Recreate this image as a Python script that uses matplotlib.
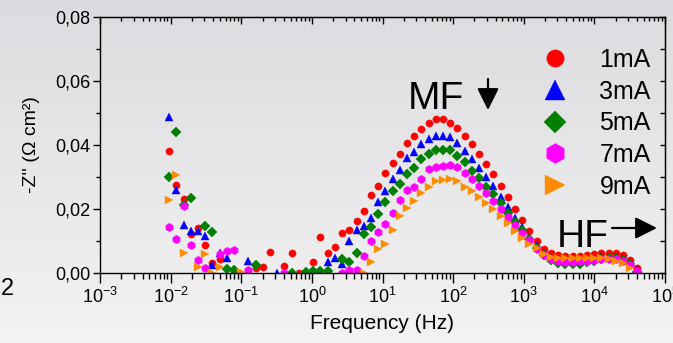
import numpy as np
import matplotlib

matplotlib.use("Agg")
from matplotlib import pyplot as plt
from matplotlib.colors import LinearSegmentedColormap
from matplotlib.ticker import FuncFormatter, LogLocator, MultipleLocator, NullFormatter

nan = np.nan

# measurement frequencies (Hz), ~10 points per decade
FREQ_HZ = [
    0.00955, 0.01208, 0.01528, 0.01932, 0.02443, 0.0309, 0.0391, 0.0494, 0.0625, 0.0791,
    0.1, 0.1265, 0.160, 0.202, 0.256, 0.324, 0.409, 0.518, 0.655, 0.828,
    1.047, 1.324, 1.675, 2.118, 2.679, 3.388, 4.285, 5.420, 6.855, 8.670,
    10.96, 13.87, 17.54, 22.18, 28.05, 35.48, 44.87, 56.75, 71.78, 90.78,
    114.8, 145.2, 183.7, 232.3, 293.8, 371.5, 469.9, 594.3, 751.6, 950.6,
    1202, 1521, 1923, 2432, 3076, 3890, 4920, 6223, 7870, 9954,
    12589, 15922, 20137, 25468, 32211, 40738,
]

# -Z'' (ohm cm2), nan = point not shown on the chart
Z_1MA = [
    0.0381, 0.0275, 0.0231, 0.0122, 0.0140, 0.0088, 0.0030, 0.0043, nan, 0.0009,
    nan, nan, 0.0016, 0.0018, 0.0065, nan, 0.0023, 0.0062, 0.0000, nan,
    0.0033, 0.0112, 0.0061, 0.0081, 0.0126, 0.0134, 0.0162, 0.0195, 0.0244, 0.0271,
    0.0311, 0.0343, 0.0373, 0.0405, 0.0428, 0.0450, 0.0468, 0.0481, 0.0481, 0.0470,
    0.0452, 0.0427, 0.0402, 0.0373, 0.0341, 0.0309, 0.0272, 0.0236, 0.0201, 0.0166,
    0.0132, 0.0100, 0.0075, 0.0062, 0.0055, 0.0052, 0.0052, 0.0053, 0.0056, 0.0060,
    0.0063, 0.0063, 0.0062, 0.0057, 0.0042, 0.0015,
]
Z_3MA = [
    0.0489, 0.0259, 0.0149, 0.0132, 0.0132, 0.0117, 0.0024, 0.0064, 0.0046, nan,
    nan, 0.0037, nan, nan, nan, 0.0000, nan, nan, nan, nan,
    nan, nan, 0.0035, 0.0046, 0.0029, 0.0101, 0.0133, 0.0148, 0.0173, 0.0221,
    0.0256, 0.0293, 0.0322, 0.0358, 0.0379, 0.0402, 0.0418, 0.0429, 0.0429, 0.0426,
    0.0405, 0.0381, 0.0355, 0.0327, 0.0301, 0.0271, 0.0238, 0.0205, 0.0172, 0.0143,
    0.0108, 0.0087, 0.0063, 0.0048, 0.0040, 0.0037, 0.0036, 0.0037, 0.0040, 0.0045,
    0.0049, 0.0050, 0.0049, 0.0044, 0.0030, 0.0008,
]
Z_5MA = [
    0.0301, 0.0442, 0.0214, 0.0234, nan, 0.0148, 0.0129, nan, 0.0012, 0.0008,
    nan, nan, 0.0026, nan, nan, nan, nan, 0.0001, nan, 0.0002,
    0.0006, 0.0006, 0.0006, nan, 0.0044, 0.0033, 0.0064, 0.0121, 0.0143, 0.0184,
    0.0221, 0.0256, 0.0278, 0.0308, 0.0327, 0.0356, 0.0372, 0.0384, 0.0384, 0.0384,
    0.0367, 0.0346, 0.0320, 0.0296, 0.0270, 0.0246, 0.0218, 0.0189, 0.0160, 0.0133,
    0.0105, 0.0078, 0.0055, 0.0040, 0.0031, 0.0027, 0.0027, 0.0029, 0.0033, 0.0039,
    0.0044, 0.0047, 0.0046, 0.0041, 0.0028, 0.0004,
]
Z_7MA = [
    0.0143, 0.0105, 0.0209, 0.0088, 0.0041, 0.0017, nan, 0.0058, 0.0070, 0.0073,
    nan, 0.0009, nan, nan, nan, nan, 0.0000, nan, nan, nan,
    nan, nan, nan, nan, 0.0000, 0.0010, 0.0010, 0.0054, 0.0101, 0.0128,
    0.0153, 0.0186, 0.0229, 0.0260, 0.0270, 0.0295, 0.0324, 0.0330, 0.0335, 0.0337,
    0.0330, 0.0312, 0.0294, 0.0273, 0.0251, 0.0226, 0.0199, 0.0174, 0.0150, 0.0126,
    0.0102, 0.0074, 0.0055, 0.0043, 0.0036, 0.0034, 0.0034, 0.0036, 0.0039, 0.0042,
    0.0045, 0.0045, 0.0043, 0.0037, 0.0024, 0.0005,
]
Z_9MA = [
    0.0228, 0.0306, 0.0063, nan, 0.0019, 0.0058, 0.0000, 0.0019, nan, nan,
    0.0004, nan, nan, nan, nan, nan, nan, nan, nan, nan,
    nan, nan, nan, nan, nan, nan, nan, 0.0000, 0.0033, 0.0074,
    0.0090, 0.0134, 0.0178, 0.0204, 0.0226, 0.0249, 0.0268, 0.0288, 0.0291, 0.0293,
    0.0286, 0.0270, 0.0256, 0.0237, 0.0218, 0.0199, 0.0178, 0.0155, 0.0132, 0.0108,
    0.0090, 0.0077, 0.0058, 0.0051, 0.0047, 0.0046, 0.0046, 0.0047, 0.0048, 0.0048,
    0.0047, 0.0043, 0.0037, 0.0031, 0.0016, nan,
]

LABELS = ["1mA", "3mA", "5mA", "7mA", "9mA"]
SERIES = [Z_1MA, Z_3MA, Z_5MA, Z_7MA, Z_9MA]
STYLES = [
    ("o", "#ff0000", 5.2),
    ("^", "#0000ff", 5.8),
    ("D", "#008000", 4.6),
    ("h", "#ff00ff", 6.0),
    (">", "#ff8c00", 5.8),
]

W, H = 673, 343


def comma_fmt(v, _pos):
    return f"{v:.2f}".replace(".", ",")


def main() -> None:
    plt.rcParams["font.family"] = ["Liberation Sans", "DejaVu Sans"]
    plt.rcParams["mathtext.fontset"] = "custom"
    plt.rcParams["mathtext.rm"] = "Liberation Sans"
    plt.rcParams["mathtext.it"] = "Liberation Sans:italic"
    plt.rcParams["axes.unicode_minus"] = False

    fig = plt.figure(figsize=(W / 100, H / 100), dpi=100)

    # grey slide background, darker at the top
    bg = fig.add_axes([0, 0, 1, 1], zorder=-1)
    cmap = LinearSegmentedColormap.from_list("bg", ["#dcdbdf", "#f3f3f3"])
    bg.imshow(np.linspace(0, 1, 256).reshape(-1, 1), aspect="auto", cmap=cmap,
              extent=[0, 1, 0, 1])
    bg.axis("off")

    ax = fig.add_axes([100 / W, 70 / H, 565 / W, 256 / H])
    ax.set_facecolor("none")

    for z, label, (marker, color, ms) in zip(SERIES, LABELS, STYLES):
        ax.plot(FREQ_HZ, z, linestyle="none", marker=marker, ms=ms, color=color,
                mec=color, mew=0.3, label=label)

    ax.set_xscale("log")
    ax.set_xlim(1e-3, 1e5)
    ax.set_ylim(0, 0.08)

    ax.xaxis.set_major_locator(LogLocator(base=10, numticks=20))
    ax.xaxis.set_minor_locator(LogLocator(base=10, subs=np.arange(2, 10), numticks=20))
    ax.xaxis.set_minor_formatter(NullFormatter())
    ax.yaxis.set_major_locator(MultipleLocator(0.02))
    ax.yaxis.set_minor_locator(MultipleLocator(0.01))
    ax.yaxis.set_major_formatter(FuncFormatter(comma_fmt))

    ax.tick_params(axis="x", which="major", direction="out", length=7, width=1,
                   labelsize=13, pad=3, top=False)
    ax.tick_params(axis="x", which="minor", direction="out", length=4, width=1, top=False)
    ax.tick_params(axis="y", which="major", direction="out", length=5, width=1,
                   labelsize=13, pad=2, right=False)
    ax.tick_params(axis="y", which="minor", direction="out", length=3, width=1, right=False)
    for sp in ax.spines.values():
        sp.set_linewidth(1.0)

    top = ax.secondary_xaxis("top")
    top.xaxis.set_major_locator(LogLocator(base=10, numticks=20))
    top.xaxis.set_minor_locator(LogLocator(base=10, subs=np.arange(2, 10), numticks=20))
    top.xaxis.set_major_formatter(NullFormatter())
    top.xaxis.set_minor_formatter(NullFormatter())
    top.tick_params(which="major", direction="in", length=5, width=1)
    top.tick_params(which="minor", direction="in", length=3, width=1)

    right = ax.secondary_yaxis("right")
    right.yaxis.set_major_locator(MultipleLocator(0.01))
    right.yaxis.set_major_formatter(NullFormatter())
    right.tick_params(which="major", direction="in", length=3.5, width=1)

    ax.set_xlabel("Frequency (Hz)", fontsize=15)
    ax.xaxis.set_label_coords(0.5, -0.16)
    ax.set_ylabel("-Z'' (Ω cm²)", fontsize=14)
    ax.yaxis.set_label_coords(-0.106, 0.5)

    ax.legend(loc="upper right", bbox_to_anchor=(0.975, 0.879), frameon=False,
              fontsize=18, markerscale=2.4, handlelength=1.0, handletextpad=1.3,
              labelspacing=0.31, borderpad=0, borderaxespad=0)

    fig.text(408 / W, 1 - 109 / H, "MF", fontsize=28, va="baseline")
    fig.text(557 / W, 1 - 247 / H, "HF", fontsize=28, va="baseline")
    fig.text(1 / W, 1 - 295 / H, "2", fontsize=17, va="baseline")

    arrow = dict(arrowstyle="-|>,head_length=0.6,head_width=0.3", lw=1.6, color="black",
                 shrinkA=0, shrinkB=0, mutation_scale=22)
    ax.annotate("", xy=(488, H - 110), xytext=(488, H - 79), xycoords="figure pixels",
                textcoords="figure pixels", arrowprops=arrow)
    ax.annotate("", xy=(657, H - 228), xytext=(612, H - 228), xycoords="figure pixels",
                textcoords="figure pixels", arrowprops=arrow)

    fig.savefig("out.png", dpi=100)
    plt.close(fig)


if __name__ == "__main__":
    main()
